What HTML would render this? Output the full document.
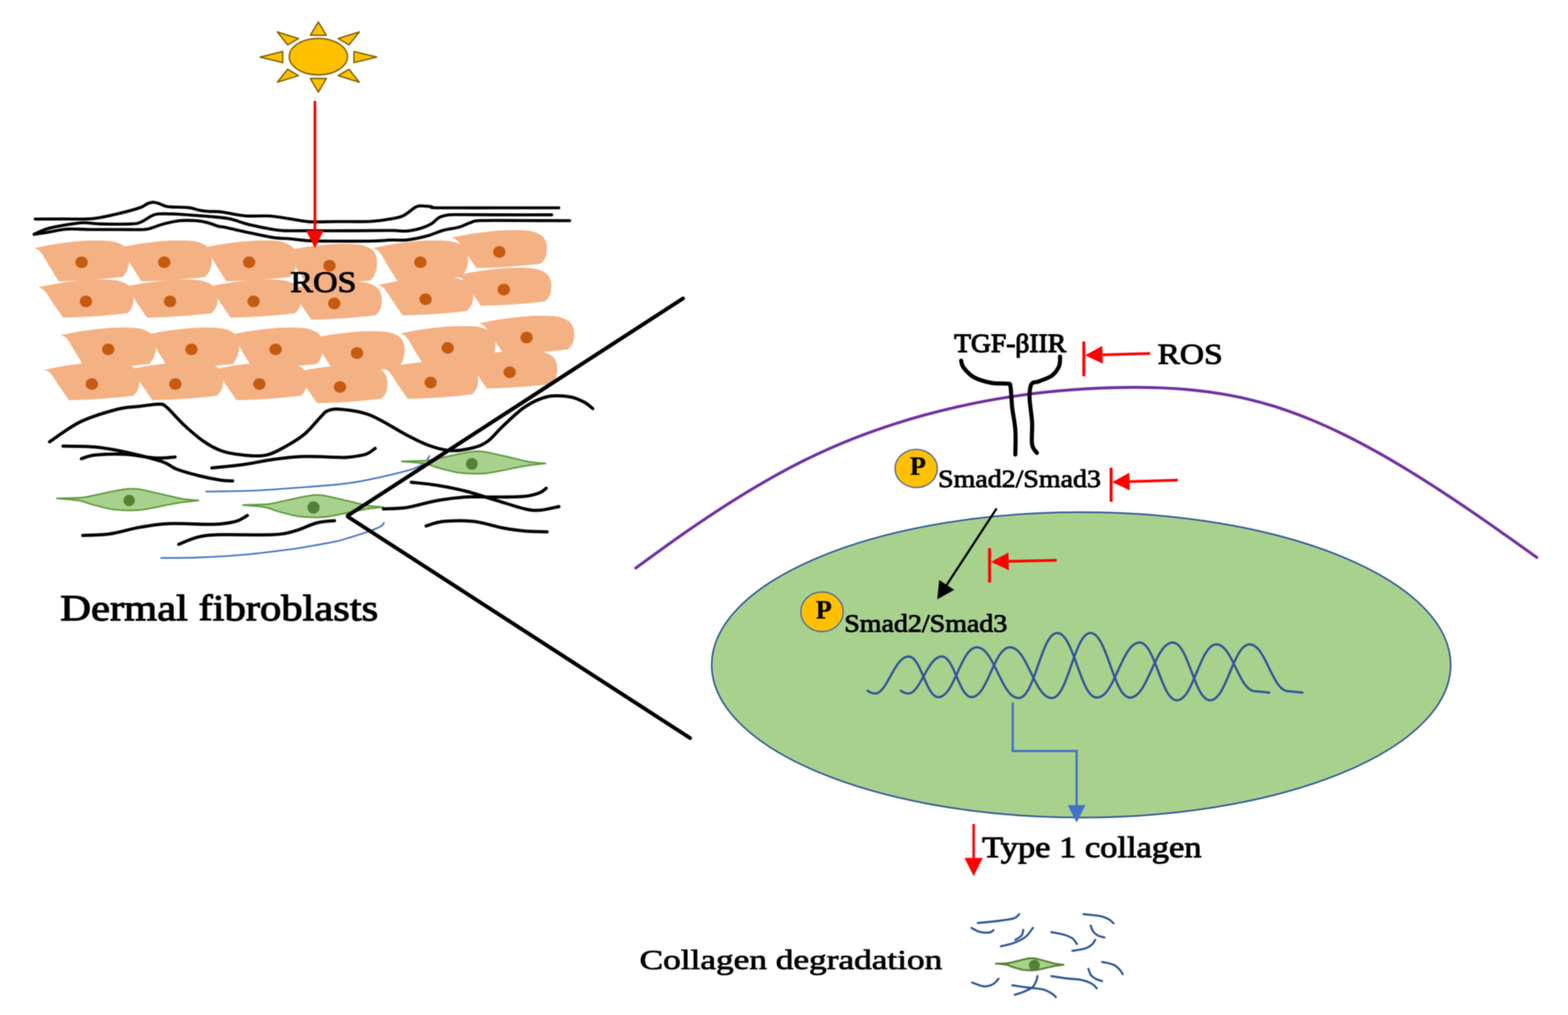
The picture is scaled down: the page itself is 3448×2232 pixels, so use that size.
<!DOCTYPE html>
<html lang="en">
<head>
<meta charset="utf-8">
<title>ROS, TGF-β/Smad signalling and collagen degradation in dermal fibroblasts</title>
<style>
html,body{margin:0;padding:0;background:#fff;}
body{width:3448px;height:2232px;overflow:hidden;}
svg{display:block;filter:blur(1px);}
</style>
</head>
<body>
<svg width="3448" height="2232" viewBox="0 0 3448 2232">
<rect width="3448" height="2232" fill="#fff"/>
<g fill="#FFC000" stroke="#7F6000" stroke-width="3" stroke-linejoin="round">
<ellipse cx="700" cy="124.6" rx="64" ry="40"/>
<path d="M700 48.2L682.4 77.4L717.6 77.4Z"/>
<path d="M700 202.8L682.4 172.6L717.6 172.6Z"/>
<path d="M571.7 125.5L621.7 113.3L621.7 137.7Z"/>
<path d="M828.3 125.5L778.3 113.3L778.3 137.7Z"/>
<path d="M609.9 70.2L656.3 84.7L632.6 98.8Z"/>
<path d="M790.1 70.2L743.7 84.7L767.4 98.8Z"/>
<path d="M609.9 180.8L656.3 166.4L632.6 152.2Z"/>
<path d="M790.1 180.8L743.7 166.4L767.4 152.2Z"/>
</g>
<g fill="#F4B183">
<path transform="translate(75.1 545.4)" d="M0 0C5 -1 20.3 -4.2 30 -6C39.7 -7.8 44.7 -8.8 58 -10.5C71.3 -12.2 93 -15.1 110 -16C127 -16.9 147.5 -16.8 160 -16C172.5 -15.2 178.2 -13.5 185 -11C191.8 -8.5 197.2 -5.2 201 -1C204.8 3.2 206.8 8.3 208 14C209.2 19.7 209.2 27 208.5 33C207.8 39 206.2 44.9 204 50C201.8 55.1 196.5 61.2 195 63.5C187.5 64.2 165.8 66.7 150 68C134.2 69.3 116 70.7 100 71.5C84 72.3 61.7 72.8 54 73C50.7 67.7 40.7 51.8 34 41C27.3 30.2 19.7 15.3 14 8.5C8.3 1.7 2.3 1.4 0 0Z"/>
<path transform="translate(256.8 545.4)" d="M0 0C5 -1 20.3 -4.2 30 -6C39.7 -7.8 44.7 -8.8 58 -10.5C71.3 -12.2 93 -15.1 110 -16C127 -16.9 147.5 -16.8 160 -16C172.5 -15.2 178.2 -13.5 185 -11C191.8 -8.5 197.2 -5.2 201 -1C204.8 3.2 206.8 8.3 208 14C209.2 19.7 209.2 27 208.5 33C207.8 39 206.2 44.9 204 50C201.8 55.1 196.5 61.2 195 63.5C187.5 64.2 165.8 66.7 150 68C134.2 69.3 116 70.7 100 71.5C84 72.3 61.7 72.8 54 73C50.7 67.7 40.7 51.8 34 41C27.3 30.2 19.7 15.3 14 8.5C8.3 1.7 2.3 1.4 0 0Z"/>
<path transform="translate(443.4 545.4)" d="M0 0C5 -1 20.3 -4.2 30 -6C39.7 -7.8 44.7 -8.8 58 -10.5C71.3 -12.2 93 -15.1 110 -16C127 -16.9 147.5 -16.8 160 -16C172.5 -15.2 178.2 -13.5 185 -11C191.8 -8.5 197.2 -5.2 201 -1C204.8 3.2 206.8 8.3 208 14C209.2 19.7 209.2 27 208.5 33C207.8 39 206.2 44.9 204 50C201.8 55.1 196.5 61.2 195 63.5C187.5 64.2 165.8 66.7 150 68C134.2 69.3 116 70.7 100 71.5C84 72.3 61.7 72.8 54 73C50.7 67.7 40.7 51.8 34 41C27.3 30.2 19.7 15.3 14 8.5C8.3 1.7 2.3 1.4 0 0Z"/>
<path transform="translate(620.2 553)" d="M0 0C5 -1 20.3 -4.2 30 -6C39.7 -7.8 44.7 -8.8 58 -10.5C71.3 -12.2 93 -15.1 110 -16C127 -16.9 147.5 -16.8 160 -16C172.5 -15.2 178.2 -13.5 185 -11C191.8 -8.5 197.2 -5.2 201 -1C204.8 3.2 206.8 8.3 208 14C209.2 19.7 209.2 27 208.5 33C207.8 39 206.2 44.9 204 50C201.8 55.1 196.5 61.2 195 63.5C187.5 64.2 165.8 66.7 150 68C134.2 69.3 116 70.7 100 71.5C84 72.3 61.7 72.8 54 73C50.7 67.7 40.7 51.8 34 41C27.3 30.2 19.7 15.3 14 8.5C8.3 1.7 2.3 1.4 0 0Z"/>
<path transform="translate(820.1 545.4)" d="M0 0C5 -1 20.3 -4.2 30 -6C39.7 -7.8 44.7 -8.8 58 -10.5C71.3 -12.2 93 -15.1 110 -16C127 -16.9 147.5 -16.8 160 -16C172.5 -15.2 178.2 -13.5 185 -11C191.8 -8.5 197.2 -5.2 201 -1C204.8 3.2 206.8 8.3 208 14C209.2 19.7 209.2 27 208.5 33C207.8 39 206.2 44.9 204 50C201.8 55.1 196.5 61.2 195 63.5C187.5 64.2 165.8 66.7 150 68C134.2 69.3 116 70.7 100 71.5C84 72.3 61.7 72.8 54 73C50.7 67.7 40.7 51.8 34 41C27.3 30.2 19.7 15.3 14 8.5C8.3 1.7 2.3 1.4 0 0Z"/>
<path transform="translate(993.6 522.6)" d="M0 0C5 -1 20.3 -4.2 30 -6C39.7 -7.8 44.7 -8.8 58 -10.5C71.3 -12.2 93 -15.1 110 -16C127 -16.9 147.5 -16.8 160 -16C172.5 -15.2 178.2 -13.5 185 -11C191.8 -8.5 197.2 -5.2 201 -1C204.8 3.2 206.8 8.3 208 14C209.2 19.7 209.2 27.5 208.5 33C207.8 38.5 206.2 42.9 204 47C201.8 51.1 196.5 55.8 195 57.5C187.5 58.2 165.8 60.7 150 62C134.2 63.3 116 64.7 100 65.5C84 66.3 61.7 66.8 54 67C50.7 62.2 40.7 47.8 34 38C27.3 28.2 19.7 14.8 14 8.5C8.3 2.2 2.3 1.4 0 0Z"/>
<path transform="translate(84.6 631.4)" d="M0 0C5 -1 20.3 -4.2 30 -6C39.7 -7.8 44.7 -8.8 58 -10.5C71.3 -12.2 93 -15.1 110 -16C127 -16.9 147.5 -16.8 160 -16C172.5 -15.2 178.2 -13.5 185 -11C191.8 -8.5 197.2 -5.2 201 -1C204.8 3.2 206.8 8.3 208 14C209.2 19.7 209.2 27.5 208.5 33C207.8 38.5 206.2 42.9 204 47C201.8 51.1 196.5 55.8 195 57.5C187.5 58.2 165.8 60.7 150 62C134.2 63.3 116 64.7 100 65.5C84 66.3 61.7 66.8 54 67C50.7 62.2 40.7 47.8 34 38C27.3 28.2 19.7 14.8 14 8.5C8.3 2.2 2.3 1.4 0 0Z"/>
<path transform="translate(269.6 631.4)" d="M0 0C5 -1 20.3 -4.2 30 -6C39.7 -7.8 44.7 -8.8 58 -10.5C71.3 -12.2 93 -15.1 110 -16C127 -16.9 147.5 -16.8 160 -16C172.5 -15.2 178.2 -13.5 185 -11C191.8 -8.5 197.2 -5.2 201 -1C204.8 3.2 206.8 8.3 208 14C209.2 19.7 209.2 27.5 208.5 33C207.8 38.5 206.2 42.9 204 47C201.8 51.1 196.5 55.8 195 57.5C187.5 58.2 165.8 60.7 150 62C134.2 63.3 116 64.7 100 65.5C84 66.3 61.7 66.8 54 67C50.7 62.2 40.7 47.8 34 38C27.3 28.2 19.7 14.8 14 8.5C8.3 2.2 2.3 1.4 0 0Z"/>
<path transform="translate(453.2 631.4)" d="M0 0C5 -1 20.3 -4.2 30 -6C39.7 -7.8 44.7 -8.8 58 -10.5C71.3 -12.2 93 -15.1 110 -16C127 -16.9 147.5 -16.8 160 -16C172.5 -15.2 178.2 -13.5 185 -11C191.8 -8.5 197.2 -5.2 201 -1C204.8 3.2 206.8 8.3 208 14C209.2 19.7 209.2 27.5 208.5 33C207.8 38.5 206.2 42.9 204 47C201.8 51.1 196.5 55.8 195 57.5C187.5 58.2 165.8 60.7 150 62C134.2 63.3 116 64.7 100 65.5C84 66.3 61.7 66.8 54 67C50.7 62.2 40.7 47.8 34 38C27.3 28.2 19.7 14.8 14 8.5C8.3 2.2 2.3 1.4 0 0Z"/>
<path transform="translate(630.6 636)" d="M0 0C5 -1 20.3 -4.2 30 -6C39.7 -7.8 44.7 -8.8 58 -10.5C71.3 -12.2 93 -15.1 110 -16C127 -16.9 147.5 -16.8 160 -16C172.5 -15.2 178.2 -13.5 185 -11C191.8 -8.5 197.2 -5.2 201 -1C204.8 3.2 206.8 8.3 208 14C209.2 19.7 209.2 27.5 208.5 33C207.8 38.5 206.2 42.9 204 47C201.8 51.1 196.5 55.8 195 57.5C187.5 58.2 165.8 60.7 150 62C134.2 63.3 116 64.7 100 65.5C84 66.3 61.7 66.8 54 67C50.7 62.2 40.7 47.8 34 38C27.3 28.2 19.7 14.8 14 8.5C8.3 2.2 2.3 1.4 0 0Z"/>
<path transform="translate(831.4 626.6)" d="M0 0C5 -1 20.3 -4.2 30 -6C39.7 -7.8 44.7 -8.8 58 -10.5C71.3 -12.2 93 -15.1 110 -16C127 -16.9 147.5 -16.8 160 -16C172.5 -15.2 178.2 -13.5 185 -11C191.8 -8.5 197.2 -5.2 201 -1C204.8 3.2 206.8 8.3 208 14C209.2 19.7 209.2 27.5 208.5 33C207.8 38.5 206.2 42.9 204 47C201.8 51.1 196.5 55.8 195 57.5C187.5 58.2 165.8 60.7 150 62C134.2 63.3 116 64.7 100 65.5C84 66.3 61.7 66.8 54 67C50.7 62.2 40.7 47.8 34 38C27.3 28.2 19.7 14.8 14 8.5C8.3 2.2 2.3 1.4 0 0Z"/>
<path transform="translate(1003.4 605.5)" d="M0 0C5 -1 20.3 -4.2 30 -6C39.7 -7.8 44.7 -8.8 58 -10.5C71.3 -12.2 93 -15.1 110 -16C127 -16.9 147.5 -16.8 160 -16C172.5 -15.2 178.2 -13.5 185 -11C191.8 -8.5 197.2 -5.2 201 -1C204.8 3.2 206.8 8.3 208 14C209.2 19.7 209.2 27.5 208.5 33C207.8 38.5 206.2 42.9 204 47C201.8 51.1 196.5 55.8 195 57.5C187.5 58.2 165.8 60.7 150 62C134.2 63.3 116 64.7 100 65.5C84 66.3 61.7 66.8 54 67C50.7 62.2 40.7 47.8 34 38C27.3 28.2 19.7 14.8 14 8.5C8.3 2.2 2.3 1.4 0 0Z"/>
<path transform="translate(133.6 736.9)" d="M0 0C5 -1 20.3 -4.2 30 -6C39.7 -7.8 44.7 -8.8 58 -10.5C71.3 -12.2 93 -15.1 110 -16C127 -16.9 147.5 -16.8 160 -16C172.5 -15.2 178.2 -13.5 185 -11C191.8 -8.5 197.2 -5.2 201 -1C204.8 3.2 206.8 8.3 208 14C209.2 19.7 209.2 27 208.5 33C207.8 39 206.2 44.9 204 50C201.8 55.1 196.5 61.2 195 63.5C187.5 64.2 165.8 66.7 150 68C134.2 69.3 116 70.7 100 71.5C84 72.3 61.7 72.8 54 73C50.7 67.7 40.7 51.8 34 41C27.3 30.2 19.7 15.3 14 8.5C8.3 1.7 2.3 1.4 0 0Z"/>
<path transform="translate(316.6 736.9)" d="M0 0C5 -1 20.3 -4.2 30 -6C39.7 -7.8 44.7 -8.8 58 -10.5C71.3 -12.2 93 -15.1 110 -16C127 -16.9 147.5 -16.8 160 -16C172.5 -15.2 178.2 -13.5 185 -11C191.8 -8.5 197.2 -5.2 201 -1C204.8 3.2 206.8 8.3 208 14C209.2 19.7 209.2 27 208.5 33C207.8 39 206.2 44.9 204 50C201.8 55.1 196.5 61.2 195 63.5C187.5 64.2 165.8 66.7 150 68C134.2 69.3 116 70.7 100 71.5C84 72.3 61.7 72.8 54 73C50.7 67.7 40.7 51.8 34 41C27.3 30.2 19.7 15.3 14 8.5C8.3 1.7 2.3 1.4 0 0Z"/>
<path transform="translate(501.6 736.9)" d="M0 0C5 -1 20.3 -4.2 30 -6C39.7 -7.8 44.7 -8.8 58 -10.5C71.3 -12.2 93 -15.1 110 -16C127 -16.9 147.5 -16.8 160 -16C172.5 -15.2 178.2 -13.5 185 -11C191.8 -8.5 197.2 -5.2 201 -1C204.8 3.2 206.8 8.3 208 14C209.2 19.7 209.2 27 208.5 33C207.8 39 206.2 44.9 204 50C201.8 55.1 196.5 61.2 195 63.5C187.5 64.2 165.8 66.7 150 68C134.2 69.3 116 70.7 100 71.5C84 72.3 61.7 72.8 54 73C50.7 67.7 40.7 51.8 34 41C27.3 30.2 19.7 15.3 14 8.5C8.3 1.7 2.3 1.4 0 0Z"/>
<path transform="translate(680.6 745)" d="M0 0C5 -1 20.3 -4.2 30 -6C39.7 -7.8 44.7 -8.8 58 -10.5C71.3 -12.2 93 -15.1 110 -16C127 -16.9 147.5 -16.8 160 -16C172.5 -15.2 178.2 -13.5 185 -11C191.8 -8.5 197.2 -5.2 201 -1C204.8 3.2 206.8 8.3 208 14C209.2 19.7 209.2 27 208.5 33C207.8 39 206.2 44.9 204 50C201.8 55.1 196.5 61.2 195 63.5C187.5 64.2 165.8 66.7 150 68C134.2 69.3 116 70.7 100 71.5C84 72.3 61.7 72.8 54 73C50.7 67.7 40.7 51.8 34 41C27.3 30.2 19.7 15.3 14 8.5C8.3 1.7 2.3 1.4 0 0Z"/>
<path transform="translate(880.1 733.6)" d="M0 0C5 -1 20.3 -4.2 30 -6C39.7 -7.8 44.7 -8.8 58 -10.5C71.3 -12.2 93 -15.1 110 -16C127 -16.9 147.5 -16.8 160 -16C172.5 -15.2 178.2 -13.5 185 -11C191.8 -8.5 197.2 -5.2 201 -1C204.8 3.2 206.8 8.3 208 14C209.2 19.7 209.2 27 208.5 33C207.8 39 206.2 44.9 204 50C201.8 55.1 196.5 61.2 195 63.5C187.5 64.2 165.8 66.7 150 68C134.2 69.3 116 70.7 100 71.5C84 72.3 61.7 72.8 54 73C50.7 67.7 40.7 51.8 34 41C27.3 30.2 19.7 15.3 14 8.5C8.3 1.7 2.3 1.4 0 0Z"/>
<path transform="translate(1053.6 710.9)" d="M0 0C5 -1 20.3 -4.2 30 -6C39.7 -7.8 44.7 -8.8 58 -10.5C71.3 -12.2 93 -15.1 110 -16C127 -16.9 147.5 -16.8 160 -16C172.5 -15.2 178.2 -13.5 185 -11C191.8 -8.5 197.2 -5.2 201 -1C204.8 3.2 206.8 8.3 208 14C209.2 19.7 209.2 27.5 208.5 33C207.8 38.5 206.2 42.9 204 47C201.8 51.1 196.5 55.8 195 57.5C187.5 58.2 165.8 60.7 150 62C134.2 63.3 116 64.7 100 65.5C84 66.3 61.7 66.8 54 67C50.7 62.2 40.7 47.8 34 38C27.3 28.2 19.7 14.8 14 8.5C8.3 2.2 2.3 1.4 0 0Z"/>
<path transform="translate(97.6 813.1)" d="M0 0C5 -1 20.3 -4.2 30 -6C39.7 -7.8 44.7 -8.8 58 -10.5C71.3 -12.2 93 -15.1 110 -16C127 -16.9 147.5 -16.8 160 -16C172.5 -15.2 178.2 -13.5 185 -11C191.8 -8.5 197.2 -5.2 201 -1C204.8 3.2 206.8 8.3 208 14C209.2 19.7 209.2 27.5 208.5 33C207.8 38.5 206.2 42.9 204 47C201.8 51.1 196.5 55.8 195 57.5C187.5 58.2 165.8 60.7 150 62C134.2 63.3 116 64.7 100 65.5C84 66.3 61.7 66.8 54 67C50.7 62.2 40.7 47.8 34 38C27.3 28.2 19.7 14.8 14 8.5C8.3 2.2 2.3 1.4 0 0Z"/>
<path transform="translate(281.2 813.1)" d="M0 0C5 -1 20.3 -4.2 30 -6C39.7 -7.8 44.7 -8.8 58 -10.5C71.3 -12.2 93 -15.1 110 -16C127 -16.9 147.5 -16.8 160 -16C172.5 -15.2 178.2 -13.5 185 -11C191.8 -8.5 197.2 -5.2 201 -1C204.8 3.2 206.8 8.3 208 14C209.2 19.7 209.2 27.5 208.5 33C207.8 38.5 206.2 42.9 204 47C201.8 51.1 196.5 55.8 195 57.5C187.5 58.2 165.8 60.7 150 62C134.2 63.3 116 64.7 100 65.5C84 66.3 61.7 66.8 54 67C50.7 62.2 40.7 47.8 34 38C27.3 28.2 19.7 14.8 14 8.5C8.3 2.2 2.3 1.4 0 0Z"/>
<path transform="translate(466.1 813.1)" d="M0 0C5 -1 20.3 -4.2 30 -6C39.7 -7.8 44.7 -8.8 58 -10.5C71.3 -12.2 93 -15.1 110 -16C127 -16.9 147.5 -16.8 160 -16C172.5 -15.2 178.2 -13.5 185 -11C191.8 -8.5 197.2 -5.2 201 -1C204.8 3.2 206.8 8.3 208 14C209.2 19.7 209.2 27.5 208.5 33C207.8 38.5 206.2 42.9 204 47C201.8 51.1 196.5 55.8 195 57.5C187.5 58.2 165.8 60.7 150 62C134.2 63.3 116 64.7 100 65.5C84 66.3 61.7 66.8 54 67C50.7 62.2 40.7 47.8 34 38C27.3 28.2 19.7 14.8 14 8.5C8.3 2.2 2.3 1.4 0 0Z"/>
<path transform="translate(643.2 819.6)" d="M0 0C5 -1 20.3 -4.2 30 -6C39.7 -7.8 44.7 -8.8 58 -10.5C71.3 -12.2 93 -15.1 110 -16C127 -16.9 147.5 -16.8 160 -16C172.5 -15.2 178.2 -13.5 185 -11C191.8 -8.5 197.2 -5.2 201 -1C204.8 3.2 206.8 8.3 208 14C209.2 19.7 209.2 27.5 208.5 33C207.8 38.5 206.2 42.9 204 47C201.8 51.1 196.5 55.8 195 57.5C187.5 58.2 165.8 60.7 150 62C134.2 63.3 116 64.7 100 65.5C84 66.3 61.7 66.8 54 67C50.7 62.2 40.7 47.8 34 38C27.3 28.2 19.7 14.8 14 8.5C8.3 2.2 2.3 1.4 0 0Z"/>
<path transform="translate(842.6 809.9)" d="M0 0C5 -1 20.3 -4.2 30 -6C39.7 -7.8 44.7 -8.8 58 -10.5C71.3 -12.2 93 -15.1 110 -16C127 -16.9 147.5 -16.8 160 -16C172.5 -15.2 178.2 -13.5 185 -11C191.8 -8.5 197.2 -5.2 201 -1C204.8 3.2 206.8 8.3 208 14C209.2 19.7 209.2 27.5 208.5 33C207.8 38.5 206.2 42.9 204 47C201.8 51.1 196.5 55.8 195 57.5C187.5 58.2 165.8 60.7 150 62C134.2 63.3 116 64.7 100 65.5C84 66.3 61.7 66.8 54 67C50.7 62.2 40.7 47.8 34 38C27.3 28.2 19.7 14.8 14 8.5C8.3 2.2 2.3 1.4 0 0Z"/>
<path transform="translate(1016.4 787.2)" d="M0 0C5 -1 20.3 -4.2 30 -6C39.7 -7.8 44.7 -8.8 58 -10.5C71.3 -12.2 93 -15.1 110 -16C127 -16.9 147.5 -16.8 160 -16C172.5 -15.2 178.2 -13.5 185 -11C191.8 -8.5 197.2 -5.2 201 -1C204.8 3.2 206.8 8.3 208 14C209.2 19.7 209.2 27.5 208.5 33C207.8 38.5 206.2 42.9 204 47C201.8 51.1 196.5 55.8 195 57.5C187.5 58.2 165.8 60.7 150 62C134.2 63.3 116 64.7 100 65.5C84 66.3 61.7 66.8 54 67C50.7 62.2 40.7 47.8 34 38C27.3 28.2 19.7 14.8 14 8.5C8.3 2.2 2.3 1.4 0 0Z"/>
</g>
<g fill="#C55A11">
<ellipse cx="179.5" cy="576.8" rx="13.5" ry="12.8"/>
<ellipse cx="361.2" cy="576.8" rx="13.5" ry="12.8"/>
<ellipse cx="547.8" cy="576.8" rx="13.5" ry="12.8"/>
<ellipse cx="724.6" cy="584.4" rx="13.5" ry="12.8"/>
<ellipse cx="924.5" cy="576.8" rx="13.5" ry="12.8"/>
<ellipse cx="1098" cy="554" rx="13.5" ry="12.8"/>
<ellipse cx="189" cy="662.8" rx="13.5" ry="12.8"/>
<ellipse cx="374" cy="662.8" rx="13.5" ry="12.8"/>
<ellipse cx="557.6" cy="662.8" rx="13.5" ry="12.8"/>
<ellipse cx="735" cy="667.4" rx="13.5" ry="12.8"/>
<ellipse cx="935.8" cy="658" rx="13.5" ry="12.8"/>
<ellipse cx="1107.8" cy="636.9" rx="13.5" ry="12.8"/>
<ellipse cx="238" cy="768.3" rx="13.5" ry="12.8"/>
<ellipse cx="421" cy="768.3" rx="13.5" ry="12.8"/>
<ellipse cx="606" cy="768.3" rx="13.5" ry="12.8"/>
<ellipse cx="785" cy="776.4" rx="13.5" ry="12.8"/>
<ellipse cx="984.5" cy="765" rx="13.5" ry="12.8"/>
<ellipse cx="1158" cy="742.3" rx="13.5" ry="12.8"/>
<ellipse cx="202" cy="844.5" rx="13.5" ry="12.8"/>
<ellipse cx="385.6" cy="844.5" rx="13.5" ry="12.8"/>
<ellipse cx="570.5" cy="844.5" rx="13.5" ry="12.8"/>
<ellipse cx="747.6" cy="851" rx="13.5" ry="12.8"/>
<ellipse cx="947" cy="841.3" rx="13.5" ry="12.8"/>
<ellipse cx="1120.8" cy="818.6" rx="13.5" ry="12.8"/>
</g>
<g fill="none" stroke="#000" stroke-width="6.6" stroke-linecap="round" stroke-linejoin="round">
<path d="M77.5 481.8C87.9 481.8 119.4 481.6 140 481.5C160.6 481.4 182 482.7 201 481C220 479.3 236.3 475.2 254 471.2C271.7 467.2 295.2 460.9 307 457C318.8 453.1 319.7 449.6 324.7 447.6C329.7 445.6 332.6 444.7 337 444.8C341.4 444.9 345.7 446.6 351 448.2C356.3 449.8 358.7 453 369 454.4C379.3 455.8 401.3 455.1 413 456.4C424.7 457.7 431.6 461 439.4 462.4C447.2 463.8 452.1 464.4 460 465C467.9 465.6 473.3 464.4 486.5 466C499.7 467.6 521.8 473.2 539.4 474.7C557 476.2 576.2 473.9 592.4 475C608.6 476.1 621.8 478.9 636.5 481C651.2 483.1 663 486.6 680.6 487.6C698.2 488.6 720.3 487.3 742.4 487.2C764.5 487.1 793.9 487.9 813 487C832.1 486.1 844.8 483.9 857 481.8C869.2 479.7 877.2 478.8 886.5 474.5C895.8 470.2 906.5 459.6 913 456C919.5 452.4 919.4 453.1 925.3 452.8C931.2 452.5 942.1 453.7 948.2 454.4C954.3 455.1 936.7 456.6 962 457C987.3 457.4 1055.5 457 1100 457C1144.5 457 1207.3 457 1228.8 457"/>
<path d="M75 515.3C79.8 513.2 91.8 506.6 104 503C116.2 499.4 134.8 496.2 148 494C161.2 491.8 171.7 490 183.5 489.7C195.3 489.4 201.2 491.9 218.8 492.4C236.5 492.8 274.1 493.1 289.4 492.4C304.7 491.7 303.2 490.9 310.6 488C318 485.1 326.8 477.6 333.5 474.7C340.2 471.8 340.7 470.9 351 470.3C361.3 469.7 382 470.6 395.3 471.2C408.6 471.8 419.8 473 430.6 473.8C441.4 474.6 447.8 474.8 460 476C472.2 477.2 489.3 478 504 481C518.7 484 532 490.1 548.2 494C564.4 497.9 588 502.5 601.2 504.7C614.4 506.9 615.8 506.9 627.6 507.4C639.4 507.8 646.4 507.4 671.8 507.4C697.2 507.4 748.6 507.5 780 507.4C811.4 507.3 841.4 506.7 860 506.8C878.6 506.9 881.5 508.8 891.8 508.2C902.1 507.6 912.4 505.6 921.8 503C931.2 500.4 940.9 496.5 948.2 492.4C955.6 488.3 959.4 481.5 965.9 478.2C972.4 474.9 979.6 473.6 987 472.6C994.4 471.6 991.2 472 1010 472C1028.8 472 1066.2 472.3 1100 472.4C1133.8 472.5 1194.2 472.4 1213 472.4"/>
<path d="M75 515.3C79.8 514.6 91.8 512.8 104 510.9C116.2 509 131.8 504.8 148 503.8C164.2 502.8 182.3 504.6 201 504.7C219.7 504.8 240.8 504.7 260 504.7C279.1 504.7 303.6 505.3 315.9 504.7C328.1 504.1 326.1 503.2 333.5 501.2C340.9 499.1 349.7 495 360 492.4C370.3 489.8 383.5 486.5 395.3 485.3C407.1 484.1 420.3 484.6 430.6 485.3C440.9 486 448.8 487.6 457 489.7C465.2 491.8 473.6 495.9 480 497.6C486.4 499.3 483.9 497.6 495.3 500C506.7 502.4 530.6 508.1 548.2 511.8C565.9 515.5 586.5 520.2 601.2 522.4C615.9 524.6 623.3 523.8 636.5 525C649.7 526.2 663 528.5 680.6 529.4C698.2 530.3 719.2 530.2 742.4 530.3C765.6 530.4 800.4 530.4 820 530C839.6 529.6 847.5 528.2 860 527.8C872.5 527.4 882.1 529.1 895.3 527.6C908.5 526.1 926.2 522.3 939.4 518.8C952.6 515.3 962.9 509.7 974.7 506.5C986.5 503.3 999.7 502.3 1010 499.4C1020.3 496.4 1028.6 491.2 1036.5 488.8C1044.4 486.4 1038.7 485.6 1057.6 485C1076.5 484.4 1117.5 484.9 1150 485C1182.5 485.1 1235.5 485.2 1252.6 485.3"/>
</g>
<path d="M692.5 222L692.5 506.5" stroke="#FF0000" stroke-width="6" fill="none"/>
<path d="M692.5 546L673 506.5L712 506.5Z" fill="#FF0000"/>
<g fill="none" stroke="#4472C4" stroke-width="3.6" stroke-linecap="round">
<path d="M453 1081C460.8 1080.9 481 1080.7 500 1080.3C519 1079.9 541.8 1079.8 567 1078.5C592.2 1077.2 622.2 1074.9 651 1072.7C679.8 1070.5 717.4 1067.8 740 1065.6C762.6 1063.4 771.1 1062 786.7 1059.4C802.3 1056.8 817.9 1053.4 833.4 1050C848.9 1046.6 867 1042.4 880 1039C893 1035.6 902.2 1033.4 911.3 1029.8C920.4 1026.2 929.1 1021.9 934.6 1017.4C940.1 1012.9 942.4 1005.1 944 1002.6"/><path d="M354 1227C367.7 1226.8 405.5 1227.1 436 1225.9C466.5 1224.7 503.4 1222.8 537 1219.8C570.6 1216.8 611.3 1211.5 637.8 1208C664.3 1204.5 679.2 1201.4 696 1198.5C712.8 1195.6 726.2 1193.4 738.7 1190.6C751.2 1187.8 759.8 1184.9 771 1181.5C782.2 1178.1 796.9 1173.5 806 1170.4C815.1 1167.3 820 1165.4 825.6 1163C831.2 1160.6 836.4 1158.2 839.5 1156C842.6 1153.8 843.5 1150.8 844.3 1149.7"/>
</g>
<path d="M125 1096C133.3 1095.8 164 1095.1 175 1094.5C186 1093.9 183.3 1093.9 191 1092.5C198.7 1091.1 211 1088.3 221 1086.2C231 1084.1 242.3 1081.7 251 1080C259.7 1078.3 266.7 1076.9 273 1076C279.3 1075.1 283.3 1074.7 289 1074.7C294.7 1074.7 298.2 1074.5 307 1076C315.8 1077.5 331.2 1081.2 342 1083.6C352.8 1086 361.8 1088.1 372 1090.4C382.2 1092.7 392.2 1095.6 403 1097.3C413.8 1099 431 1100 436.6 1100.5C431 1101.1 413.8 1102.8 403 1104.3C392.2 1105.8 382.2 1107.7 372 1109.6C361.8 1111.5 352 1113.8 342 1115.7C332 1117.6 320.8 1119.9 312 1121C303.2 1122.1 296.7 1122.4 289 1122.5C281.3 1122.6 273.5 1122.2 266 1121.7C258.5 1121.2 251.5 1120.8 244 1119.5C236.5 1118.2 228.7 1116.1 221 1114.2C213.3 1112.3 205.7 1110.3 198 1108.1C190.3 1105.9 187.2 1103 175 1101C162.8 1099 133.3 1096.8 125 1096Z" fill="#A9D18E" stroke="#5E9A3C" stroke-width="3.5" stroke-linejoin="round"/>
<circle cx="284" cy="1100.5" r="12.5" fill="#548235"/>
<path d="M534 1110.5C542.2 1110.2 572.6 1109.6 583.5 1109C594.4 1108.4 591.8 1108.3 599.3 1106.9C606.9 1105.5 619.1 1102.6 629 1100.4C638.9 1098.3 650.2 1095.8 658.7 1094C667.3 1092.3 674.2 1090.8 680.5 1089.9C686.8 1089 690.8 1088.6 696.4 1088.6C702 1088.6 705.4 1088.4 714.2 1089.9C722.9 1091.4 738.1 1095.3 748.8 1097.7C759.6 1100.2 768.5 1102.4 778.5 1104.7C788.6 1107.1 798.6 1110.1 809.2 1111.8C819.9 1113.6 836.9 1114.6 842.5 1115.1C836.9 1115.8 819.9 1117.5 809.2 1119C798.6 1120.6 788.6 1122.6 778.5 1124.5C768.5 1126.5 758.7 1128.8 748.8 1130.8C738.9 1132.7 727.9 1135.1 719.1 1136.2C710.4 1137.4 704 1137.7 696.4 1137.8C688.8 1137.9 681 1137.5 673.6 1137C666.2 1136.5 659.2 1136 651.8 1134.7C644.4 1133.4 636.6 1131.2 629 1129.2C621.4 1127.3 613.9 1125.2 606.3 1123C598.7 1120.7 595.5 1117.7 583.5 1115.7C571.5 1113.6 542.2 1111.4 534 1110.5Z" fill="#A9D18E" stroke="#5E9A3C" stroke-width="3.5" stroke-linejoin="round"/>
<circle cx="689.4" cy="1116" r="13.5" fill="#548235"/>
<path d="M883.3 1014.5C891.8 1014.2 922.9 1013.6 934 1013C945.2 1012.4 942.5 1012.3 950.3 1010.9C958.1 1009.5 970.6 1006.6 980.7 1004.4C990.9 1002.3 1002.4 999.8 1011.2 998C1020 996.3 1027.1 994.8 1033.5 993.9C1039.9 993 1044 992.6 1049.8 992.6C1055.5 992.6 1059.1 992.4 1068 993.9C1077 995.4 1092.6 999.3 1103.6 1001.7C1114.6 1004.2 1123.7 1006.4 1134 1008.7C1144.3 1011.1 1154.5 1014.1 1165.5 1015.8C1176.4 1017.6 1193.9 1018.6 1199.6 1019.1C1193.9 1019.8 1176.4 1021.5 1165.5 1023C1154.5 1024.6 1144.3 1026.6 1134 1028.5C1123.7 1030.5 1113.7 1032.8 1103.6 1034.8C1093.4 1036.7 1082.1 1039.1 1073.1 1040.2C1064.1 1041.4 1057.5 1041.7 1049.8 1041.8C1042 1041.9 1034 1041.5 1026.4 1041C1018.8 1040.5 1011.7 1040 1004.1 1038.7C996.5 1037.4 988.5 1035.2 980.7 1033.2C973 1031.3 965.2 1029.2 957.4 1027C949.6 1024.7 946.4 1021.7 934 1019.6C921.7 1017.6 891.8 1015.4 883.3 1014.5Z" fill="#A9D18E" stroke="#5E9A3C" stroke-width="3.5" stroke-linejoin="round"/>
<circle cx="1037.6" cy="1020" r="13" fill="#548235"/>
<g fill="none" stroke="#000" stroke-width="7" stroke-linecap="round" stroke-linejoin="round">
<path d="M109 971.5C120.3 964.2 152.2 939.4 177 927.5C201.8 915.6 236.3 905.7 258 900C279.7 894.3 291.8 895.4 307 893.5C322.2 891.6 339.2 888.5 349 888.7C358.8 889 356.8 887.5 366 895C375.2 902.5 390.5 921.5 404 934C417.5 946.5 433.3 960.5 447 970C460.7 979.5 471.5 985.9 486 991C500.5 996.1 517.3 999 534 1000.6C550.7 1002.2 569.7 1004.1 586 1000.6C602.3 997.1 617.8 987.4 632 979.5C646.2 971.6 658.8 963.9 671 953.5C683.2 943.1 696.8 925.3 705 917C713.2 908.7 712.7 906.3 720 903.5C727.3 900.7 733.3 898.4 749 900C764.7 901.6 789.7 903.5 814 913C838.3 922.5 873.5 945.9 895 957C916.5 968.1 926.8 973.8 943 979.5C959.2 985.2 975.7 990.2 992 991C1008.3 991.8 1027.5 988 1041 984.5C1054.5 981 1062.2 977.9 1073 970C1083.8 962.1 1092.5 949.5 1106 937C1119.5 924.5 1137.8 905.8 1154 895C1170.2 884.2 1186.7 876.2 1203 872.5C1219.3 868.8 1238.5 870.6 1252 872.5C1265.5 874.4 1275.4 879.7 1284 884C1292.6 888.3 1300.2 896.1 1303.5 898.5"/>
<path d="M138.5 981C150.4 981.3 187.2 980.8 210 983C232.8 985.2 250.7 988.7 275 994C299.3 999.3 337.2 1008.8 356 1015C374.8 1021.2 374.5 1026.3 388 1031.5C401.5 1036.7 420.7 1041.9 437 1046C453.3 1050.1 473.6 1054.1 486 1056C498.4 1057.9 507.2 1057.2 511.5 1057.5"/>
<path d="M179 1008.7C184.2 1007.4 194 1002.2 210 1000.6C226 999 253.3 997.9 275 999C296.7 1000.1 321.7 1006 340 1007C358.3 1008 377.5 1005.3 385 1005"/>
<path d="M466 1029C477.3 1027.8 511.8 1024.8 534 1021.7C556.2 1018.6 577.3 1013.5 599 1010.5C620.7 1007.5 640.5 1004.8 664 1004C687.5 1003.2 723.2 1005.2 740 1005.5C756.8 1005.8 754.3 1006.6 765 1005.5C775.7 1004.4 794 1002.2 804 999C814 995.8 821.5 988.2 825 986"/>
<path d="M182 1177.5C192 1176.9 221.2 1177 242 1174C262.8 1171 285.3 1163.3 307 1159.6C328.7 1155.8 345 1152.6 372 1151.5C399 1150.4 444.7 1153.8 469 1153C493.3 1152.2 505.5 1149.8 518 1146.6C530.5 1143.4 539.7 1135.8 544 1133.7"/>
<path d="M393 1197C400.3 1194.3 421.5 1184.2 437 1180.7C452.5 1177.2 459 1176.6 486 1175.8C513 1175 572 1177.1 599 1175.8C626 1174.5 631.8 1172 648 1167.7C664.2 1163.4 681.4 1153.8 696 1150C710.6 1146.2 728.9 1145.8 735.5 1145"/>
<path d="M904.5 1060.5C913.8 1061.6 940.1 1063.8 960 1067C979.9 1070.2 1002.5 1074.6 1024 1080C1045.5 1085.4 1067.3 1093.1 1089 1099.6C1110.7 1106.1 1137.7 1115.3 1154 1119C1170.3 1122.7 1174.5 1122.8 1187 1122C1199.5 1121.2 1222 1115.3 1229 1114"/>
<path d="M843 1119C851.7 1118.5 875.5 1119 895 1116C914.5 1113 938.5 1104.8 960 1101C981.5 1097.2 1002.5 1094.3 1024 1093C1045.5 1091.7 1067.3 1093.2 1089 1093C1110.7 1092.8 1137.7 1093.1 1154 1091.5C1170.3 1089.9 1179.2 1086.5 1187 1083.5C1194.8 1080.5 1198.7 1075.2 1201 1073.6"/>
<path d="M937 1156.5C943.5 1154.8 958.7 1148.2 976 1146.6C993.3 1144.9 1019.3 1144.2 1041 1146.6C1062.7 1149 1087.2 1157.5 1106 1161C1124.8 1164.5 1137.8 1166.3 1154 1167.7C1170.2 1169.1 1194.8 1169.1 1203 1169.4"/>
</g>
<path d="M1502 656.3L763 1135L1517.5 1623" fill="none" stroke="#000" stroke-width="8.5" stroke-linecap="round" stroke-linejoin="bevel"/>
<path d="M1397.9 1249.2C1409.7 1240.6 1445.1 1214.6 1468.7 1197.8C1492.3 1181 1515.8 1164.5 1539.4 1148.6C1563 1132.7 1586.6 1117.1 1610.2 1102.2C1633.8 1087.3 1657.4 1073 1681 1059.4C1704.6 1045.8 1728.2 1032.8 1751.8 1020.8C1775.4 1008.8 1798.9 997.6 1822.5 987.1C1846.1 976.6 1869.7 967 1893.3 958C1916.9 949 1940.5 940.8 1964.1 933.2C1987.7 925.6 2011.2 918.6 2034.8 912.2C2058.4 905.8 2082 899.9 2105.6 894.6C2129.2 889.3 2152.8 884.5 2176.4 880.2C2200 875.9 2223.6 872.2 2247.2 868.9C2270.8 865.6 2294.3 862.8 2317.9 860.5C2341.5 858.2 2365.1 856.4 2388.7 855C2412.3 853.6 2435.9 852.7 2459.5 852.2C2483.1 851.7 2506.6 851.6 2530.2 852.2C2553.8 852.8 2577.4 853.8 2601 855.8C2624.6 857.8 2648.2 860.3 2671.8 863.9C2695.4 867.5 2719 871.8 2742.6 877.3C2766.2 882.8 2789.7 889.4 2813.3 897.1C2836.9 904.8 2860.5 913.7 2884.1 923.4C2907.7 933.1 2931.3 944 2954.9 955.5C2978.5 967 3002 979.5 3025.6 992.6C3049.2 1005.7 3072.8 1019.6 3096.4 1034C3120 1048.4 3143.6 1063.4 3167.2 1078.8C3190.8 1094.2 3214.4 1110.1 3238 1126.2C3261.6 1142.3 3285.1 1158.9 3308.7 1175.5C3332.3 1192.1 3367.7 1217.4 3379.5 1225.8" fill="none" stroke="#7030A0" stroke-width="6.4" stroke-linecap="round"/>
<ellipse cx="2377.5" cy="1462" rx="812.5" ry="335.8" fill="#A9D18E" stroke="#2F5597" stroke-width="3.5"/>
<g fill="none" stroke="#000" stroke-width="9" stroke-linecap="round" stroke-linejoin="round">
<path d="M2113.5 793C2114.4 795.6 2114.3 802.4 2119 808.5C2123.7 814.6 2131.3 823.9 2141.5 829.5C2151.7 835.1 2167.8 839.6 2180 842C2192.2 844.4 2208 842.4 2215 843.7C2222 845 2220.2 841.3 2222 850C2223.8 858.7 2223.9 880.2 2225.7 896C2227.5 911.8 2231.5 927.7 2232.7 945C2233.9 962.3 2232.7 990.5 2232.7 999.6"/><path d="M2331 784C2330.7 787.5 2332 798 2329 805C2326 812 2320.3 820.4 2313 826C2305.7 831.6 2292.5 835.3 2285 838.5C2277.5 841.7 2271.5 838.9 2268 845C2264.5 851.1 2263.8 861.2 2264 875C2264.2 888.8 2268.6 911 2269.5 928C2270.4 945 2267.8 965.7 2269.5 977C2271.2 988.3 2278.2 992.8 2280 996"/>
</g>
<g fill="none" stroke="#2F5597" stroke-width="5" stroke-linecap="round" stroke-linejoin="round">
<path d="M1908 1519Q1916 1525 1925 1525C1950.5 1525 1967.3 1443.5 1998 1443.5C2025.5 1443.5 2036 1533 2063.5 1533C2099 1533 2112.5 1423.5 2148 1423.5C2186.6 1423.5 2201.4 1535 2240 1535C2275.7 1535 2289.3 1392 2325 1392C2361.5 1392 2375.5 1534 2412 1534C2451.5 1534 2466.5 1413 2506 1413C2540.4 1413 2553.6 1540 2588 1540C2624.5 1540 2638.5 1417 2675 1417C2710.7 1417 2724.3 1520 2760 1520L2791 1523"/><path d="M1981 1519Q1989 1525 1998 1525C2023.5 1525 2040.3 1443.5 2071 1443.5C2098.5 1443.5 2109 1533 2136.5 1533C2172 1533 2185.5 1423.5 2221 1423.5C2259.6 1423.5 2274.4 1535 2313 1535C2348.7 1535 2362.3 1392 2398 1392C2434.5 1392 2448.5 1534 2485 1534C2524.5 1534 2539.5 1413 2579 1413C2613.4 1413 2626.6 1540 2661 1540C2697.5 1540 2711.5 1417 2748 1417C2783.7 1417 2797.3 1520 2833 1520L2864 1523"/>
</g>
<path d="M2227 1545V1651.5H2367.5V1772" fill="none" stroke="#4472C4" stroke-width="5" stroke-linejoin="miter"/>
<path d="M2367.5 1809L2348 1770.5L2387 1770.5Z" fill="#4472C4"/>
<path d="M2191.6 1118L2081.8 1286.2" stroke="#000" stroke-width="4.8" fill="none"/>
<path d="M2061 1318L2065.2 1275.4L2098.3 1297Z" fill="#000"/>
<path d="M2383.3 751L2383.3 827.5" stroke="#FF0000" stroke-width="6.5" fill="none"/>
<path d="M2529 777.3L2424.5 780.2" stroke="#FF0000" stroke-width="6" fill="none"/>
<path d="M2386 781.3L2423.9 760.7L2425 799.7Z" fill="#FF0000"/>
<path d="M2443.3 1028.5L2443.3 1103.5" stroke="#FF0000" stroke-width="6.5" fill="none"/>
<path d="M2590 1055.7L2484 1059.1" stroke="#FF0000" stroke-width="6" fill="none"/>
<path d="M2445.5 1060.3L2483.4 1039.6L2484.6 1078.6Z" fill="#FF0000"/>
<path d="M2176 1205.5L2176 1281" stroke="#FF0000" stroke-width="6.5" fill="none"/>
<path d="M2323.5 1232L2218 1234.6" stroke="#FF0000" stroke-width="6" fill="none"/>
<path d="M2179.5 1235.6L2217.5 1215.1L2218.5 1254.1Z" fill="#FF0000"/>
<path d="M2141 1812L2141 1886.5" stroke="#FF0000" stroke-width="5.5" fill="none"/>
<path d="M2141 1926.5L2120.8 1886.5L2161.2 1886.5Z" fill="#FF0000"/>
<ellipse cx="2014.7" cy="1030.2" rx="46.5" ry="42" fill="#FFC000" stroke="#3F62A3" stroke-width="2.6"/>
<ellipse cx="1807.6" cy="1345.3" rx="46.5" ry="43.6" fill="#FFC000" stroke="#3F62A3" stroke-width="2.6"/>
<g fill="none" stroke="#2F5597" stroke-width="4.6" stroke-linecap="round" stroke-linejoin="round">
<path d="M2150.4 2029.6C2157.4 2028.9 2179.2 2027.1 2192.4 2025.4C2205.6 2023.7 2221.3 2022 2229.4 2019.5C2237.5 2017 2239.2 2011.8 2241.2 2010.3"/>
<path d="M2136.1 2040.5C2139.1 2041.9 2147.2 2047.2 2153.8 2048.9C2160.4 2050.6 2170.4 2051.2 2175.6 2050.6C2180.8 2050 2183.3 2046.3 2184.9 2045.5"/>
<path d="M2200.8 2080.8C2205.3 2079.7 2218.7 2077.4 2227.7 2074.1C2236.7 2070.8 2247.3 2066.3 2254.6 2060.7C2261.9 2055.1 2268.6 2043.9 2271.4 2040.5"/>
<path d="M2232.8 2066.6C2235 2065.1 2243.3 2061 2246.2 2057.3C2249.1 2053.7 2249.7 2046.8 2250.4 2044.7"/>
<path d="M2311.8 2049.7C2316.6 2050.7 2332.5 2053.2 2340.3 2055.6C2348.1 2058 2354.2 2060.6 2358.8 2064C2363.4 2067.4 2366.6 2073.8 2368.1 2075.8"/>
<path d="M2382.4 2010.3C2388.6 2011 2410.1 2012.7 2419.3 2014.5C2428.5 2016.3 2432.9 2018.5 2437.8 2021.2C2442.7 2023.9 2446.9 2028.9 2448.7 2030.4"/>
<path d="M2398.3 2035.5C2399.3 2037.7 2401.5 2045.3 2404.2 2048.9C2406.9 2052.5 2410.2 2055.2 2414.3 2057.3C2418.4 2059.4 2426.2 2060.8 2428.6 2061.5"/>
<path d="M2358 2090.9C2362.6 2090.1 2378.6 2088.1 2385.7 2085.9C2392.8 2083.7 2397 2080.7 2400.8 2077.5C2404.6 2074.3 2407.1 2068.4 2408.4 2066.6"/>
<path d="M2423.5 2115.3C2427.6 2116.3 2441.6 2118.5 2447.9 2121.2C2454.2 2123.9 2457.8 2127.8 2461.3 2131.3C2464.8 2134.8 2467.6 2140.4 2468.9 2142.2"/>
<path d="M2393.3 2130.4C2394.3 2132.8 2396.3 2140.9 2399.2 2144.7C2402.1 2148.5 2406.8 2151 2410.9 2153.1C2415 2155.2 2421.4 2156.6 2423.5 2157.3"/>
<path d="M2311.8 2146.4C2317.1 2147.2 2332.8 2150 2343.7 2151.4C2354.6 2152.8 2367.8 2152.8 2377.3 2154.8C2386.8 2156.8 2395.1 2160.1 2400.8 2163.2C2406.6 2166.3 2410 2171.6 2411.8 2173.3"/>
<path d="M2137.8 2160.7C2142.2 2162.1 2156.2 2168.5 2163.9 2169.1C2171.6 2169.7 2178.7 2166.8 2184 2164C2189.3 2161.2 2193.8 2154.2 2195.8 2152.3"/>
<path d="M2226 2166.6C2231.6 2167.4 2248.5 2170.1 2259.7 2171.6C2270.9 2173.1 2284.4 2173.6 2293.3 2175.8C2302.2 2178 2308.7 2182.2 2313.4 2185C2318.2 2187.8 2320.4 2191.3 2321.8 2192.6"/>
<path d="M2231.1 2187.6C2234.5 2186.5 2244.9 2183.5 2251.3 2180.8C2257.7 2178.1 2265.2 2175.4 2269.7 2171.6C2274.2 2167.8 2276.2 2162.4 2278.2 2158.2C2280.2 2154 2280.9 2148.4 2281.5 2146.4"/>
</g>
<path d="M2190 2119C2194 2118.9 2208.6 2118.5 2213.9 2118.2C2219.2 2117.8 2217.9 2117.8 2221.5 2117C2225.2 2116.3 2231.1 2114.7 2235.9 2113.5C2240.7 2112.3 2246.1 2111 2250.2 2110C2254.4 2109.1 2257.7 2108.3 2260.7 2107.8C2263.8 2107.3 2265.7 2107.1 2268.4 2107.1C2271.1 2107.1 2272.8 2107 2277 2107.8C2281.2 2108.6 2288.5 2110.7 2293.7 2112.1C2298.9 2113.4 2303.2 2114.6 2308.1 2115.9C2312.9 2117.1 2317.7 2118.8 2322.9 2119.7C2328 2120.7 2336.3 2121.2 2338.9 2121.5C2336.3 2121.9 2328 2122.8 2322.9 2123.6C2317.7 2124.5 2312.9 2125.6 2308.1 2126.6C2303.2 2127.7 2298.5 2129 2293.7 2130C2288.9 2131.1 2283.6 2132.4 2279.4 2133C2275.2 2133.6 2272.1 2133.8 2268.4 2133.8C2264.7 2133.9 2261 2133.7 2257.4 2133.4C2253.8 2133.1 2250.5 2132.9 2246.9 2132.2C2243.3 2131.5 2239.6 2130.3 2235.9 2129.2C2232.2 2128.1 2228.6 2127 2224.9 2125.8C2221.2 2124.5 2219.7 2122.9 2213.9 2121.8C2208.1 2120.7 2194 2119.5 2190 2119Z" fill="#A9D18E" stroke="#548235" stroke-width="4" stroke-linejoin="round"/>
<circle cx="2274.6" cy="2122.4" r="12" fill="#548235"/>
<g font-family="'Liberation Serif', 'DejaVu Serif', serif" font-weight="normal" fill="#000" stroke="#000" stroke-linejoin="round">
<text x="638.6" y="642.3" font-size="65.5" stroke-width="1.96" text-anchor="start" textLength="145.2" lengthAdjust="spacingAndGlyphs">ROS</text>
<text x="132.6" y="1363.7" font-size="80.6" stroke-width="2.26" text-anchor="start" textLength="699" lengthAdjust="spacingAndGlyphs">Dermal fibroblasts</text>
<text x="2098.3" y="774.2" font-size="57.5" stroke-width="2.42" text-anchor="start" textLength="246" lengthAdjust="spacingAndGlyphs">TGF-βIIR</text>
<text x="2545.5" y="800.3" font-size="62.5" stroke-width="1.88" text-anchor="start" textLength="143.1" lengthAdjust="spacingAndGlyphs">ROS</text>
<text x="2062.8" y="1070.7" font-size="55.5" stroke-width="1.78" text-anchor="start" textLength="358.1" lengthAdjust="spacingAndGlyphs">Smad2/Smad3</text>
<text x="1856.4" y="1389" font-size="55.5" stroke-width="1.78" text-anchor="start" textLength="358.6" lengthAdjust="spacingAndGlyphs">Smad2/Smad3</text>
<text x="2159.7" y="1884.6" font-size="66" stroke-width="1.98" text-anchor="start" textLength="482.5" lengthAdjust="spacingAndGlyphs">Type 1 collagen</text>
<text x="1406.5" y="2130.9" font-size="62" stroke-width="1.61" text-anchor="start" textLength="665.5" lengthAdjust="spacingAndGlyphs">Collagen degradation</text>
<text x="2018.5" y="1044.4" font-size="57" font-weight="bold" stroke-width="0.5" text-anchor="middle" textLength="35" lengthAdjust="spacingAndGlyphs">P</text>
<text x="1811.4" y="1359.5" font-size="57" font-weight="bold" stroke-width="0.5" text-anchor="middle" textLength="35" lengthAdjust="spacingAndGlyphs">P</text>
</g>
</svg>
</body>
</html>
